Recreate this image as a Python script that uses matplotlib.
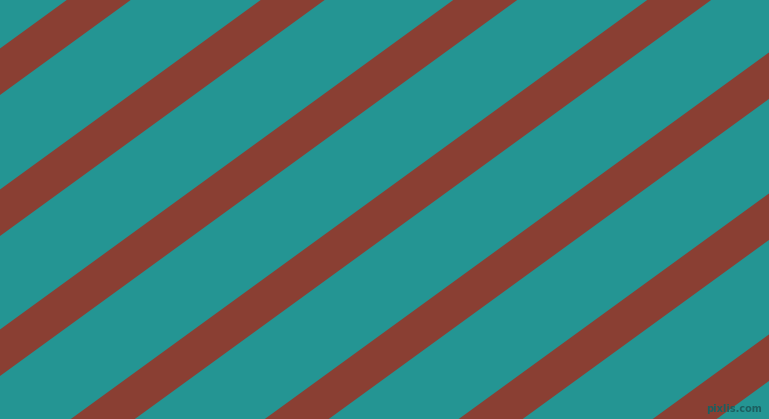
import numpy as np
import matplotlib
matplotlib.use("Agg")
import matplotlib.pyplot as plt

# stripe data: lower-edge intercept at left edge (pixels from top), thickness, slope
stripe_intercepts = [95, 236, 376, 517, 658, 799, 940]
stripe_thickness = 46.5
stripe_slope = 0.727
bg_color = "#249593"
stripe_color = "#8A3F33"

W, H = 769, 419
fig = plt.figure(figsize=(W / 100, H / 100), dpi=100)
ax = fig.add_axes([0, 0, 1, 1])
ax.set_facecolor(bg_color)
fig.patch.set_facecolor(bg_color)
ax.set_xlim(0, W)
ax.set_ylim(H, 0)
ax.axis("off")

x = np.linspace(0, W, 200)
for b in stripe_intercepts:
    lower = b - stripe_slope * x
    upper = lower - stripe_thickness
    ax.fill_between(x, upper, lower, color=stripe_color, linewidth=0)

ax.text(762, 409, "pixlis.com", ha="right", va="center", fontsize=7,
        color="#1c5f60", fontweight="bold")

fig.savefig("out.png", dpi=100, facecolor=bg_color)
